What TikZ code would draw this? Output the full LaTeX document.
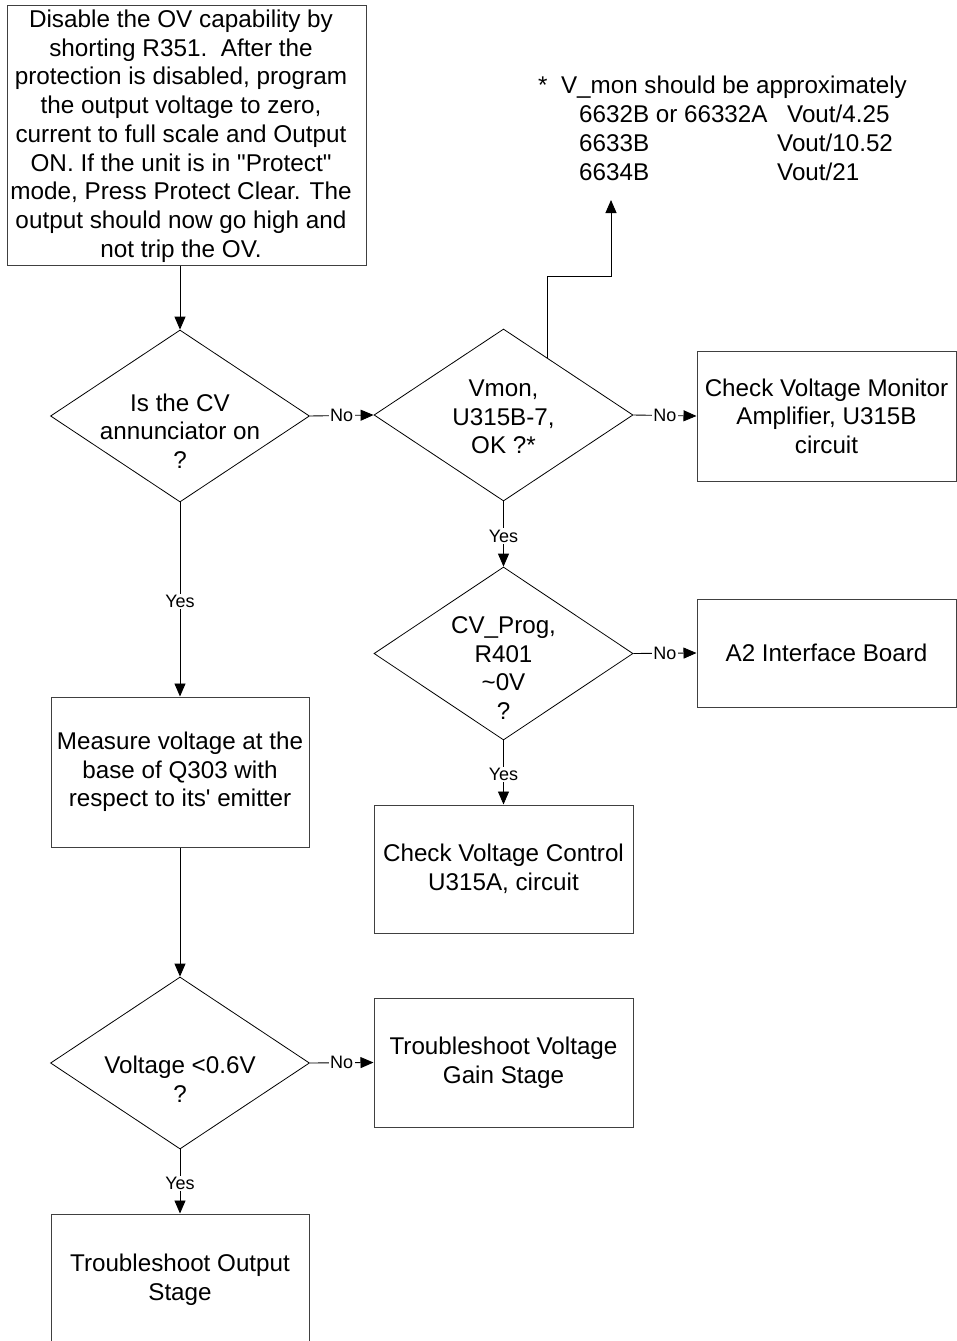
\documentclass[tikz,border=0pt]{standalone}
\usepackage{fontspec}
\setmainfont{Liberation Sans}
\usetikzlibrary{shapes.geometric,arrows.meta,calc}
\begin{document}
\begin{tikzpicture}[x=1pt,y=-1pt,
  every node/.style={font=\fontsize{24.2pt}{28.6pt}\selectfont},
  box/.style={draw=black!75, line width=1pt, rectangle, align=center, inner sep=0pt},
  dec/.style={draw=black, line width=0.8pt, diamond, minimum width=259pt, minimum height=172pt, inner sep=0pt},
  dtext/.style={align=center, inner sep=0pt},
  lbl/.style={font=\fontsize{18pt}{20pt}\selectfont, fill=white, inner sep=1.5pt},
  note/.style={anchor=base west, inner sep=0pt},
  flow/.style={draw=black, line width=0.9pt, -{Triangle[length=13pt,width=11pt]}},
]
\useasboundingbox (0,0) rectangle (957,1341);
\clip (0,0) rectangle (957,1341);

% process boxes
\node[box, minimum width=359pt, minimum height=260pt] (start) at (186.5,135) {};
\node[dtext, font=\fontsize{24.3pt}{28.75pt}\selectfont] (startText) at (181,136)
  {Disable the OV capability by\\shorting R351.\ \ After the\\protection is disabled, program\\the output voltage to zero,\\current to full scale and Output\\ON. If the unit is in \textquotedbl Protect\textquotedbl\\mode, Press Protect Clear. The\\output should now go high and\\not trip the OV.};
\node[box, minimum width=259pt, minimum height=130pt] (mon) at (826.5,416)
  {Check Voltage Monitor\\Amplifier, U315B\\circuit};
\node[box, minimum width=259pt, minimum height=108pt] (a2) at (826.5,653)
  {A2 Interface Board};
\node[box, minimum width=259pt, minimum height=128pt] (ctl) at (503.5,869)
  {Check Voltage Control\\U315A, circuit};
\node[box, minimum width=258pt, minimum height=150pt] (meas) at (180,772)
  {Measure voltage at the\\base of Q303 with\\respect to its\textquotesingle\ emitter};
\node[box, minimum width=259pt, minimum height=129pt] (gain) at (503.5,1062.5)
  {Troubleshoot Voltage\\Gain Stage};
\node[box, minimum width=258pt, minimum height=132pt] (out) at (180,1280)
  {Troubleshoot Output\\Stage};

% decisions
\node[dec] (d1) at (180,416) {};
\node[dtext] (t1) at (180,431) {Is the CV\\annunciator on\\?};
\node[dec] (d2) at (503.5,415) {};
\node[dtext] (t2) at (503.5,417) {Vmon,\\U315B-7,\\OK ?*};
\node[dec, minimum height=173pt] (d3) at (503.5,653.5) {};
\node[dtext] (t3) at (503.5,668) {CV\_Prog,\\R401\\\textasciitilde0V\\?};
\node[dec] (d4) at (180,1063) {};
\node[dtext] (t4) at (180,1079) {Voltage <0.6V\\?};

% note
\node[note] (n1) at (538,93) {*\ \ V\_mon should be approximately};
\node[note] (n2a) at (579,122) {6632B or 66332A};
\node[note] (n2b) at (787,122) {Vout/4.25};
\node[note] (n3a) at (579,151) {6633B};
\node[note] (n3b) at (777,151) {Vout/10.52};
\node[note] (n4a) at (579,180) {6634B};
\node[note] (n4b) at (777,180) {Vout/21};

% connectors
\draw[flow] (start.south -| d1.north) -- (d1.north);
\draw[flow] (d1.east) -- node[lbl]{No} (d2.west);
\draw[flow] (d2.east) -- node[lbl]{No} (mon.west);
\draw[flow] (d2.south) -- node[lbl, yshift=-2pt]{Yes} (d3.north);
\draw[flow] (d3.east) -- node[lbl]{No} (a2.west);
\draw[flow] (d3.south) -- node[lbl, yshift=-2pt]{Yes} (ctl.north);
\draw[flow] (d1.south) -- node[lbl, yshift=-2pt]{Yes} (meas.north);
\draw[flow] (meas.south) -- (d4.north);
\draw[flow] (d4.east) -- node[lbl]{No} (gain.west);
\draw[flow] (d4.south) -- node[lbl, yshift=-2pt]{Yes} (out.north);

\coordinate (up) at ($(d2.north)!0.335!(d2.east)$);
\coordinate (noteTip) at (611,200);
\draw[flow] (up) -- ++(0,-81) -| (noteTip);
\end{tikzpicture}
\end{document}
